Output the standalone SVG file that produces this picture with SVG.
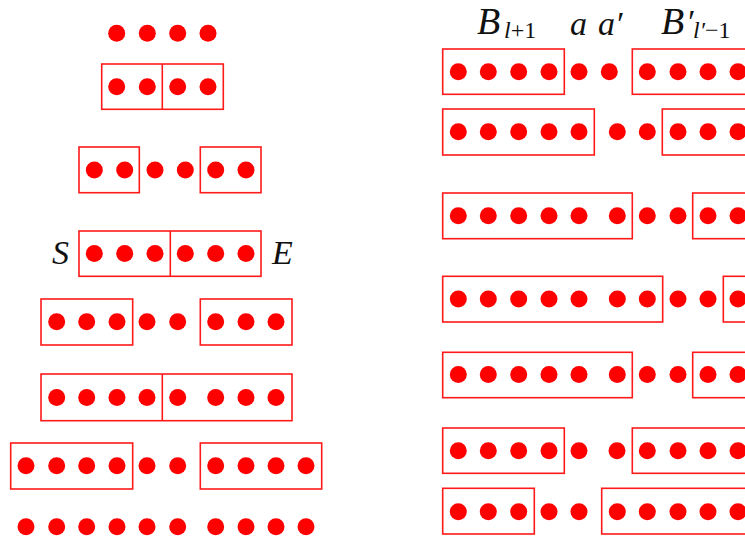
<svg xmlns="http://www.w3.org/2000/svg" width="745" height="538" viewBox="0 0 745 538">
<style>
.d{fill:#ff0000}
.b{fill:none;stroke:#ff1a1a;stroke-width:1.6}
.m{font-family:"Liberation Serif","DejaVu Serif",serif;font-style:italic;font-size:34px;fill:#111}
.bb{font-family:"Liberation Serif","DejaVu Serif",serif;font-style:italic;font-size:38px;fill:#111}
.s{font-size:24px;font-style:normal}
.i{font-style:italic}
.p{font-size:34px}
</style>
<defs><circle id="c" r="8.5" class="d"/></defs>
<rect width="745" height="538" fill="#fff"/>
<g id="L1">
<use href="#c" x="116.7" y="33.3"/><use href="#c" x="147.3" y="33.3"/><use href="#c" x="177.7" y="33.3"/><use href="#c" x="208" y="33.3"/>
</g>
<g id="L2">
<rect class="b" x="101.7" y="64" width="121.6" height="45.3"/><line class="b" x1="162.3" y1="64" x2="162.3" y2="109.3"/>
<use href="#c" x="116.7" y="86.7"/><use href="#c" x="147.3" y="86.7"/><use href="#c" x="177.7" y="86.7"/><use href="#c" x="208" y="86.7"/>
</g>
<g id="L3">
<rect class="b" x="79" y="147" width="60.3" height="45.7"/><rect class="b" x="200.3" y="147" width="60.7" height="45.7"/>
<use href="#c" x="94.3" y="170"/><use href="#c" x="124.7" y="170"/><use href="#c" x="155" y="170"/><use href="#c" x="185.3" y="170"/><use href="#c" x="215.7" y="170"/><use href="#c" x="246" y="170"/>
</g>
<g id="L4">
<rect class="b" x="79" y="231" width="182" height="45.3"/><line class="b" x1="170.3" y1="231" x2="170.3" y2="276.3"/>
<use href="#c" x="94.3" y="253.5"/><use href="#c" x="124.7" y="253.5"/><use href="#c" x="155" y="253.5"/><use href="#c" x="185.3" y="253.5"/><use href="#c" x="215.7" y="253.5"/><use href="#c" x="246" y="253.5"/>
<text class="m" x="52" y="263.5">S</text><text class="m" x="272" y="263.5">E</text>
</g>
<g id="L5">
<rect class="b" x="41" y="299" width="91.7" height="46"/><rect class="b" x="200.3" y="299" width="91.7" height="46"/>
<use href="#c" x="56.7" y="321.7"/><use href="#c" x="86.7" y="321.7"/><use href="#c" x="117" y="321.7"/><use href="#c" x="147" y="321.7"/><use href="#c" x="177.7" y="321.7"/><use href="#c" x="215.7" y="321.7"/><use href="#c" x="246" y="321.7"/><use href="#c" x="276" y="321.7"/>
</g>
<g id="L6">
<rect class="b" x="41" y="374" width="251" height="46.7"/><line class="b" x1="162.3" y1="374" x2="162.3" y2="420.7"/>
<use href="#c" x="56.7" y="397.5"/><use href="#c" x="86.7" y="397.5"/><use href="#c" x="117" y="397.5"/><use href="#c" x="147" y="397.5"/><use href="#c" x="177.7" y="397.5"/><use href="#c" x="215.7" y="397.5"/><use href="#c" x="246" y="397.5"/><use href="#c" x="276" y="397.5"/>
</g>
<g id="L7">
<rect class="b" x="10.7" y="443" width="122" height="46"/><rect class="b" x="200.3" y="443" width="121.4" height="46"/>
<use href="#c" x="26" y="465.7"/><use href="#c" x="56.7" y="465.7"/><use href="#c" x="86.7" y="465.7"/><use href="#c" x="117" y="465.7"/><use href="#c" x="147" y="465.7"/><use href="#c" x="177.7" y="465.7"/><use href="#c" x="215.7" y="465.7"/><use href="#c" x="246" y="465.7"/><use href="#c" x="276" y="465.7"/><use href="#c" x="306" y="465.7"/>
</g>
<g id="L8">
<use href="#c" x="26" y="526.7"/><use href="#c" x="56.7" y="526.7"/><use href="#c" x="86.7" y="526.7"/><use href="#c" x="117" y="526.7"/><use href="#c" x="147" y="526.7"/><use href="#c" x="177.7" y="526.7"/><use href="#c" x="215.7" y="526.7"/><use href="#c" x="246" y="526.7"/><use href="#c" x="276" y="526.7"/><use href="#c" x="306" y="526.7"/>
</g>
<g id="labels">
<text class="bb" x="477" y="34">B<tspan class="s" x="504" y="38"><tspan class="i">l</tspan>+1</tspan></text>
<text class="m" x="570" y="35">a</text>
<text class="m" x="598" y="35">a′</text>
<text class="bb" x="661" y="34">B<tspan class="p" x="686" y="33">′</tspan><tspan class="s" x="693" y="38"><tspan class="i">l′</tspan>−1</tspan></text>
</g>
<g id="R1">
<rect class="b" x="442.7" y="49" width="121.6" height="45.3"/><rect class="b" x="632.3" y="49" width="150" height="45.3"/>
<use href="#c" x="458.3" y="71.7"/><use href="#c" x="488.3" y="71.7"/><use href="#c" x="518.7" y="71.7"/><use href="#c" x="549" y="71.7"/><use href="#c" x="579" y="71.7"/><use href="#c" x="609.3" y="71.7"/><use href="#c" x="647.3" y="71.7"/><use href="#c" x="678" y="71.7"/><use href="#c" x="708" y="71.7"/><use href="#c" x="738" y="71.7"/>
</g>
<g id="R2">
<rect class="b" x="442.7" y="109" width="151.6" height="46"/><rect class="b" x="662.3" y="109" width="150" height="46"/>
<use href="#c" x="458.3" y="131.7"/><use href="#c" x="488.3" y="131.7"/><use href="#c" x="518.7" y="131.7"/><use href="#c" x="549" y="131.7"/><use href="#c" x="579" y="131.7"/><use href="#c" x="617.3" y="131.7"/><use href="#c" x="647.3" y="131.7"/><use href="#c" x="678" y="131.7"/><use href="#c" x="708" y="131.7"/><use href="#c" x="738" y="131.7"/>
</g>
<g id="R3">
<rect class="b" x="442.7" y="193" width="189.6" height="45.7"/><rect class="b" x="692.7" y="193" width="150" height="45.7"/>
<use href="#c" x="458.3" y="215.7"/><use href="#c" x="488.3" y="215.7"/><use href="#c" x="518.7" y="215.7"/><use href="#c" x="549" y="215.7"/><use href="#c" x="579" y="215.7"/><use href="#c" x="617.3" y="215.7"/><use href="#c" x="647.3" y="215.7"/><use href="#c" x="678" y="215.7"/><use href="#c" x="708" y="215.7"/><use href="#c" x="738" y="215.7"/>
</g>
<g id="R4">
<rect class="b" x="442.7" y="276.3" width="220" height="45.7"/><rect class="b" x="723.3" y="276.3" width="150" height="45.7"/>
<use href="#c" x="458.3" y="299"/><use href="#c" x="488.3" y="299"/><use href="#c" x="518.7" y="299"/><use href="#c" x="549" y="299"/><use href="#c" x="579" y="299"/><use href="#c" x="617.3" y="299"/><use href="#c" x="647.3" y="299"/><use href="#c" x="678" y="299"/><use href="#c" x="708" y="299"/><use href="#c" x="738" y="299"/>
</g>
<g id="R5">
<rect class="b" x="442.7" y="352.3" width="189.6" height="45.4"/><rect class="b" x="692.7" y="352.3" width="150" height="45.4"/>
<use href="#c" x="458.3" y="374.5"/><use href="#c" x="488.3" y="374.5"/><use href="#c" x="518.7" y="374.5"/><use href="#c" x="549" y="374.5"/><use href="#c" x="579" y="374.5"/><use href="#c" x="617.3" y="374.5"/><use href="#c" x="647.3" y="374.5"/><use href="#c" x="678" y="374.5"/><use href="#c" x="708" y="374.5"/><use href="#c" x="738" y="374.5"/>
</g>
<g id="R6">
<rect class="b" x="442.7" y="428" width="121.6" height="45.3"/><rect class="b" x="632.3" y="428" width="150" height="45.3"/>
<use href="#c" x="458.3" y="450.7"/><use href="#c" x="488.3" y="450.7"/><use href="#c" x="518.7" y="450.7"/><use href="#c" x="549" y="450.7"/><use href="#c" x="579" y="450.7"/><use href="#c" x="617" y="450.7"/><use href="#c" x="647.3" y="450.7"/><use href="#c" x="678" y="450.7"/><use href="#c" x="708" y="450.7"/><use href="#c" x="738" y="450.7"/>
</g>
<g id="R7">
<rect class="b" x="442.7" y="488.3" width="91.6" height="45.7"/><rect class="b" x="601.7" y="488.3" width="180" height="45.7"/>
<use href="#c" x="458.3" y="511.7"/><use href="#c" x="488.3" y="511.7"/><use href="#c" x="518.7" y="511.7"/><use href="#c" x="549" y="511.7"/><use href="#c" x="579" y="511.7"/><use href="#c" x="617.3" y="511.7"/><use href="#c" x="647.3" y="511.7"/><use href="#c" x="678" y="511.7"/><use href="#c" x="708" y="511.7"/><use href="#c" x="738" y="511.7"/>
</g>
</svg>
